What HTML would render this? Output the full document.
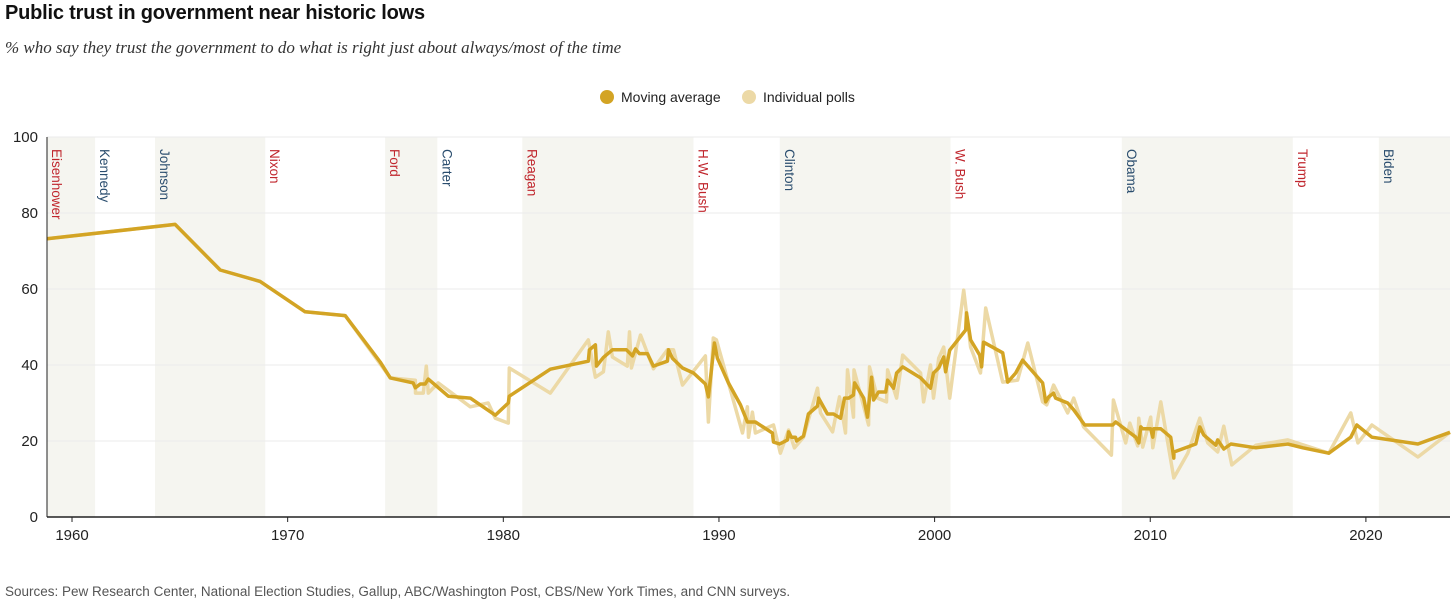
<!DOCTYPE html>
<html><head><meta charset="utf-8"><style>
body{margin:0;background:#fff;width:1456px;height:607px;overflow:hidden;font-family:"Liberation Sans",sans-serif}
#title{position:absolute;left:5px;top:2px;font-size:20px;font-weight:bold;color:#111;letter-spacing:-0.2px}
#sub{position:absolute;left:5px;top:38px;font-family:"Liberation Serif",serif;font-style:italic;font-size:17px;color:#333}
#src{position:absolute;left:5px;top:584px;font-size:13.5px;color:#555}
</style></head><body>
<div id="title">Public trust in government near historic lows</div>
<div id="sub">% who say they trust the government to do what is right just about always/most of the time</div>
<svg id="chart" width="1456" height="607" style="position:absolute;left:0;top:0"></svg>
<div id="src">Sources: Pew Research Center, National Election Studies, Gallup, ABC/Washington Post, CBS/New York Times, and CNN surveys.</div>
<script>
const maYears=[1958.84,1964.78,1966.87,1968.72,1970.81,1972.67,1974.29,1974.76,1975.82,1975.92,1976.15,1976.38,1976.52,1977.45,1978.47,1979.63,1980.23,1980.28,1982.18,1983.94,1983.99,1984.27,1984.32,1984.64,1985.06,1985.71,1985.99,1986.13,1986.31,1986.68,1986.96,1987.61,1987.66,1987.84,1988.31,1988.82,1989.37,1989.51,1989.79,1989.93,1990.44,1991.00,1991.32,1991.69,1992.48,1992.53,1992.81,1993.18,1993.23,1993.36,1993.55,1993.60,1993.92,1994.15,1994.57,1994.62,1995.03,1995.31,1995.64,1995.82,1996.01,1996.24,1996.29,1996.71,1996.89,1997.08,1997.17,1997.40,1997.73,1997.82,1998.10,1998.24,1998.52,1999.35,1999.81,1999.95,2000.19,2000.42,2000.51,2000.70,2001.44,2001.48,2001.67,2002.09,2002.18,2002.27,2003.16,2003.39,2003.76,2004.08,2005.01,2005.15,2005.29,2005.52,2005.61,2006.17,2006.45,2006.96,2008.26,2008.40,2009.33,2009.47,2009.56,2009.65,2010.02,2010.12,2010.16,2010.49,2010.95,2011.09,2011.10,2012.11,2012.30,2012.48,2013.04,2013.13,2013.41,2013.74,2014.90,2016.38,2017.08,2018.28,2019.30,2019.58,2020.28,2022.41,2023.9];
const maValues=[73.2,77,65,62,54,53,40.8,36.6,35.3,34,35,35,36.3,31.8,31.3,26.8,30,31.8,38.9,41,44,45.3,39.7,42,44,44,42.4,44.2,43,43,39.7,41,44,41.8,39.2,37.9,35,31.6,45.8,41.8,35.3,29.5,25,25,22.1,19.7,19.2,20.3,22.4,21,21,20,21.3,27.1,29.2,31.3,27.1,27.1,26,31.3,31.3,32.1,35.3,31.3,26.3,36.8,30.8,32.9,32.9,36,33.9,37.9,39.5,36.6,33.9,37.9,39.2,42.1,38.2,43.9,49.2,53.7,46.6,42.6,39.5,46,43.2,35.5,37.9,41.3,35.3,30.3,31.6,32.6,31.3,30,28.2,24.2,24.2,25,21,19.5,23.7,23.2,23.2,21,23.2,23.2,21,15.5,17.1,19.2,23.7,21.6,18.9,20.3,17.9,19.2,18.2,19.2,18.2,16.8,21,24.2,21,19.2,22.3];
const pollYears=[1958.84,1964.78,1966.87,1968.72,1970.81,1972.67,1974.76,1975.92,1975.93,1976.29,1976.43,1976.52,1976.98,1978.47,1979.30,1979.63,1980.23,1980.28,1982.18,1983.94,1984.27,1984.64,1984.87,1985.06,1985.75,1985.85,1985.94,1986.36,1986.96,1987.61,1987.89,1988.31,1989.37,1989.51,1989.74,1989.88,1991.09,1991.32,1991.37,1991.55,1991.69,1992.53,1992.85,1993.23,1993.50,1993.92,1994.57,1994.71,1995.27,1995.59,1995.87,1995.96,1996.24,1996.26,1996.94,1996.98,1997.35,1997.77,1997.82,1998.24,1998.52,1999.35,1999.49,1999.81,1999.95,2000.19,2000.42,2000.70,2001.35,2001.67,2002.13,2002.37,2003.16,2003.85,2004.32,2005.01,2005.20,2005.52,2006.17,2006.45,2006.91,2008.20,2008.29,2008.86,2009.05,2009.42,2009.47,2009.65,2010.02,2010.12,2010.49,2011.09,2011.74,2012.30,2012.67,2013.13,2013.41,2013.78,2014.90,2016.38,2018.28,2019.30,2019.63,2020.28,2022.41,2023.9];
const pollValues=[73.2,77,65,62,54,53,36.6,36,32.6,32.6,39.7,32.6,35.3,29,30,26,24.7,39.2,32.6,46.6,36.8,38.2,48.7,42.1,39.7,48.7,39.2,47.9,39,44,44,34.7,42.4,25,47.1,46.6,22.1,29,21,27.6,22.1,24.2,16.8,22.9,18.2,21,33.9,27.4,22.4,31.6,22.1,38.7,26.3,38.7,24.2,39.5,31.3,30.3,38.7,31.3,42.6,37.9,30.3,40,31.3,41.8,44.7,31.3,59.7,44.7,37.9,55,35.5,36,45.8,30.3,29.5,34.7,27.4,31.3,23.7,16.3,30.8,19.5,24.7,18.7,26,18.4,26.3,18.2,30.3,10.3,16.8,26,19.5,17.1,23.9,13.7,18.9,20.3,16.8,27.4,19.5,24.2,15.8,22.3];
const presidents=["Eisenhower","Kennedy","Johnson","Nixon","Ford","Carter","Reagan","H.W. Bush","Clinton","W. Bush","Obama","Trump","Biden"];
const termStarts=[1953,1961.07,1963.85,1968.96,1974.52,1976.94,1980.88,1988.82,1992.82,2000.74,2008.68,2016.61,2020.6];
const parties=["R","D","D","R","R","D","R","R","D","R","D","R","D"];
const yTicks=[0,20,40,60,80,100];
const xTicks=[1960,1970,1980,1990,2000,2010,2020];
const NS="http://www.w3.org/2000/svg";
const svg=document.getElementById('chart');
const x0=1958.84,x1=2023.9,px0=47,px1=1450,py0=517,py1=137;
const X=v=>px0+(Math.max(x0,Math.min(x1,v))-x0)/(x1-x0)*(px1-px0);
const Y=v=>py0-v/100*(py0-py1);
function mk(t,a){const e=document.createElementNS(NS,t);for(const k in a)e.setAttribute(k,a[k]);svg.appendChild(e);return e;}
presidents.forEach((p,i)=>{
  const s=X(termStarts[i]),e=i+1<termStarts.length?X(termStarts[i+1]):px1;
  if(i%2===0){const r=mk('rect',{x:s,y:py1,width:e-s,height:py0-py1,fill:'#f5f5f0'});
  
  }
});
yTicks.forEach(t=>{
  if(t>0){const l=mk('line',{x1:px0,x2:px1,y1:Y(t),y2:Y(t),stroke:'#ebebeb','stroke-width':1});
  
  }
  const tx=mk('text',{x:38,y:Y(t)+5,'text-anchor':'end','font-size':15,fill:'#222'});tx.textContent=t;
  
  
});
presidents.forEach((p,i)=>{
  const s=Math.max(X(termStarts[i]),px0);
  const tx=mk('text',{transform:`translate(${s+5},149) rotate(90)`,'font-size':13.5,fill:parties[i]==='R'?'#c0262d':'#2a4d6e'});
  tx.textContent=p;
  
  
});
function path(xs,ys,col,name){
  const d=xs.map((v,i)=>(i?'L':'M')+X(v).toFixed(1)+','+Y(ys[i]).toFixed(1)).join('');
  const p=mk('path',{d:d,fill:'none',stroke:col,'stroke-width':3.5,'stroke-linejoin':'round'});
  
  
}
path(pollYears,pollValues,'#ecd9a6','individual-polls-line');
path(maYears,maValues,'#d3a424','moving-average-line');
const ax=mk('line',{x1:px0,x2:px1,y1:py0,y2:py0,stroke:'#222','stroke-width':1.5});


const ay=mk('line',{x1:px0,x2:px0,y1:py1,y2:py0,stroke:'#222','stroke-width':1});


xTicks.forEach(t=>{
  const l=mk('line',{x1:X(t),x2:X(t),y1:py0,y2:py0+5,stroke:'#222'});
  
  
  const tx=mk('text',{x:X(t),y:540,'text-anchor':'middle','font-size':15,fill:'#222'});tx.textContent=t;
  
  
});
const c1=mk('circle',{cx:607,cy:97,r:7,fill:'#d3a424'});


const t1=mk('text',{x:621,y:102,'font-size':14,fill:'#222'});t1.textContent='Moving average';


const c2=mk('circle',{cx:749,cy:97,r:7,fill:'#ecd9a6'});


const t2=mk('text',{x:763,y:102,'font-size':14,fill:'#222'});t2.textContent='Individual polls';


</script>
</body></html>
